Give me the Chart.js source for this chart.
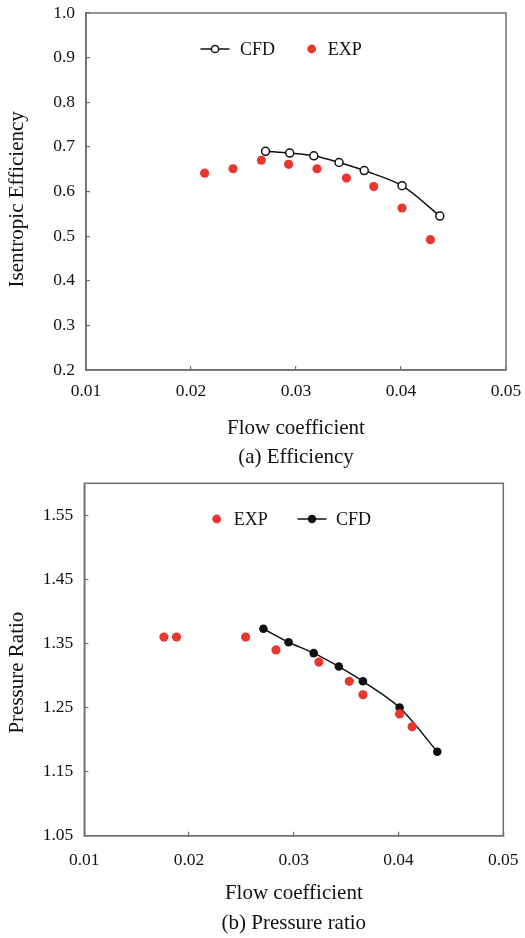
<!DOCTYPE html>
<html>
<head>
<meta charset="utf-8">
<script src="https://cdn.jsdelivr.net/npm/chart.js@4.4.1/dist/chart.umd.min.js"></script>
<style>
  html, body { margin: 0; padding: 0; background: #ffffff; }
  #wrap { position: relative; width: 525px; height: 938px; }
  .panel { position: absolute; left: 0; width: 525px; }
  #p1 { top: 0; height: 470px; }
  #p2 { top: 470px; height: 468px; }
</style>
</head>
<body>
<div id="wrap">
  <div class="panel" id="p1"><canvas id="c1" width="525" height="470"></canvas></div>
  <div class="panel" id="p2"><canvas id="c2" width="525" height="468"></canvas></div>
</div>
<script>
// ---------- data ----------
const xTicks = [0.01, 0.02, 0.03, 0.04, 0.05];

// (a) Efficiency
const effTicks = [0.2, 0.3, 0.4, 0.5, 0.6, 0.7, 0.8, 0.9, 1.0];
const effCfdX = [0.0271, 0.0294, 0.0317, 0.0341, 0.0365, 0.0401, 0.0437];
const effCfdY = [0.690, 0.686, 0.680, 0.665, 0.647, 0.613, 0.545];
const effExpX = [0.0213, 0.0240, 0.0267, 0.0293, 0.0320, 0.0348, 0.0374, 0.0401, 0.0428];
const effExpY = [0.641, 0.651, 0.670, 0.661, 0.651, 0.630, 0.611, 0.563, 0.492];

// (b) Pressure ratio
const prTicks = [1.05, 1.15, 1.25, 1.35, 1.45, 1.55];
const prCfdX = [0.0271, 0.0295, 0.0319, 0.0343, 0.0366, 0.0401, 0.0437];
const prCfdY = [1.373, 1.352, 1.335, 1.314, 1.291, 1.250, 1.181];
const prExpX = [0.0176, 0.0188, 0.0254, 0.0283, 0.0324, 0.0353, 0.0366, 0.0401, 0.0413];
const prExpY = [1.360, 1.360, 1.360, 1.340, 1.321, 1.291, 1.270, 1.240, 1.220];

const xTitle = 'Flow coefficient';
const effTitle = 'Isentropic Efficiency';
const prTitle = 'Pressure Ratio';
const effCaption = '(a) Efficiency';
const prCaption = '(b) Pressure ratio';

// ---------- styles ----------
const RED = '#e8372f';
const BLACK = '#111111';
const FRAME = '#6e6e76';
const SERIF = "'Liberation Serif', 'Times New Roman', serif";
Chart.defaults.font.family = SERIF;
Chart.defaults.color = '#111111';

const toPts = (xs, ys) => xs.map((x, i) => ({ x: x, y: ys[i] }));

const framePlugin = {
  id: 'frame',
  afterDatasetsDraw(chart) {
    const a = chart.chartArea, ctx = chart.ctx;
    ctx.save();
    ctx.strokeStyle = FRAME;
    ctx.lineWidth = 1.5;
    ctx.strokeRect(a.left, a.top, a.right - a.left, a.bottom - a.top);
    ctx.restore();
  }
};

// in-plot legend drawn from dataset styles
const inLegendPlugin = {
  id: 'inLegend',
  afterDraw(chart, args, opts) {
    const a = chart.chartArea, ctx = chart.ctx;
    const y = a.top + opts.dy;
    ctx.save();
    ctx.font = '18px ' + SERIF;
    ctx.textBaseline = 'middle';
    ctx.fillStyle = '#111111';
    opts.items.forEach(it => {
      const ds = chart.data.datasets[it.index];
      const x0 = a.left + it.dx;
      if (ds.showLine) {
        ctx.strokeStyle = ds.borderColor;
        ctx.lineWidth = 1.5;
        ctx.beginPath();
        ctx.moveTo(x0 - 14.5, y);
        ctx.lineTo(x0 + 14.5, y);
        ctx.stroke();
      }
      ctx.beginPath();
      ctx.arc(x0, y, it.r, 0, Math.PI * 2);
      ctx.fillStyle = ds.pointBackgroundColor;
      ctx.fill();
      if (ds.pointBorderWidth) {
        ctx.lineWidth = ds.pointBorderWidth;
        ctx.strokeStyle = ds.pointBorderColor;
        ctx.stroke();
      }
      ctx.fillStyle = '#111111';
      ctx.textAlign = 'left';
      ctx.fillText(ds.label, x0 + it.tx, y + 1);
    });
    ctx.restore();
  }
};

function makeChart(canvasId, cfg) {
  return new Chart(document.getElementById(canvasId), {
    type: 'scatter',
    data: { datasets: cfg.datasets },
    options: {
      responsive: false,
      animation: false,
      layout: { padding: cfg.pad },
      plugins: {
        legend: { display: false },
        tooltip: { enabled: false },
        title: {
          display: true,
          position: 'bottom',
          fullSize: false,
          text: cfg.caption,
          color: '#111111',
          font: { family: SERIF, size: 21, weight: 'normal' },
          padding: { top: 0, bottom: cfg.capPad }
        },
        inLegend: cfg.legend
      },
      scales: {
        x: {
          type: 'linear',
          min: xTicks[0], max: xTicks[xTicks.length - 1],
          afterBuildTicks: s => { s.ticks = xTicks.map(v => ({ value: v })); },
          afterFit: s => { s.height = cfg.xHeight; s.paddingLeft = 0; s.paddingRight = 0; },
          grid: { drawOnChartArea: false, drawTicks: true, tickLength: -4, color: FRAME, lineWidth: 1.2 },
          border: { display: true, color: FRAME, width: 1.5 },
          ticks: { padding: cfg.xTickPad, maxRotation: 0, font: { size: 17.5 }, color: '#111111',
                   callback: v => Number(v).toFixed(2) },
          title: { display: true, text: xTitle, color: '#111111',
                   font: { size: 21 }, padding: { top: 0, bottom: cfg.xTitlePad } }
        },
        y: {
          type: 'linear',
          min: cfg.yMin, max: cfg.yMax,
          afterBuildTicks: s => { s.ticks = cfg.yTicks.map(v => ({ value: v })); },
          afterFit: s => { s.width = cfg.yWidth; s.paddingTop = 0; s.paddingBottom = 0; },
          grid: { drawOnChartArea: false, drawTicks: true, tickLength: -4, color: FRAME, lineWidth: 1.2 },
          border: { display: true, color: FRAME, width: 1.5 },
          ticks: { padding: 15, font: { size: 17.5 }, color: '#111111',
                   callback: v => Number(v).toFixed(cfg.yDec) },
          title: { display: true, text: cfg.yTitle + ' '.repeat(cfg.yTitleShift), color: '#111111',
                   font: { size: 21 }, padding: { top: cfg.yTitlePad, bottom: 0 } }
        }
      }
    },
    plugins: [framePlugin, inLegendPlugin]
  });
}

// (a) Efficiency
makeChart('c1', {
  datasets: [
    { label: 'CFD', data: toPts(effCfdX, effCfdY), showLine: true, tension: 0.3,
      borderColor: BLACK, borderWidth: 1.5, pointRadius: 4, pointBorderWidth: 1.5,
      pointBackgroundColor: '#ffffff', pointBorderColor: BLACK },
    { label: 'EXP', data: toPts(effExpX, effExpY), showLine: false,
      pointRadius: 4.6, pointBorderWidth: 0, pointBackgroundColor: RED, pointBorderColor: RED, borderColor: RED }
  ],
  pad: { left: 0, right: 19, top: 13, bottom: 0 },
  caption: effCaption, capPad: 0,
  xHeight: 74.8, xTickPad: 15, xTitlePad: 4,
  yMin: 0.2, yMax: 1.0, yTicks: effTicks, yDec: 1, yWidth: 86,
  yTitle: effTitle, yTitlePad: 5, yTitleShift: 3,
  legend: { dy: 36, items: [ { index: 0, dx: 129, r: 3.6, tx: 25 }, { index: 1, dx: 225.7, r: 4.4, tx: 16 } ] }
});

// (b) Pressure ratio
makeChart('c2', {
  datasets: [
    { label: 'EXP', data: toPts(prExpX, prExpY), showLine: false,
      pointRadius: 4.6, pointBorderWidth: 0, pointBackgroundColor: RED, pointBorderColor: RED, borderColor: RED },
    { label: 'CFD', data: toPts(prCfdX, prCfdY), showLine: true, tension: 0.3,
      borderColor: BLACK, borderWidth: 1.5, pointRadius: 4.3, pointBorderWidth: 0,
      pointBackgroundColor: BLACK, pointBorderColor: BLACK }
  ],
  pad: { left: 0, right: 21.7, top: 13.3, bottom: 0 },
  caption: prCaption, capPad: 2.4,
  xHeight: 74.7, xTickPad: 18, xTitlePad: 4.8,
  yMin: 1.05, yMax: 1.60, yTicks: prTicks, yDec: 2, yWidth: 84.3,
  yTitle: prTitle, yTitlePad: 4.4, yTitleShift: 5,
  legend: { dy: 35.7, items: [ { index: 0, dx: 132.4, r: 4.4, tx: 17 }, { index: 1, dx: 227.7, r: 4.2, tx: 24 } ] }
});
</script>
</body>
</html>
